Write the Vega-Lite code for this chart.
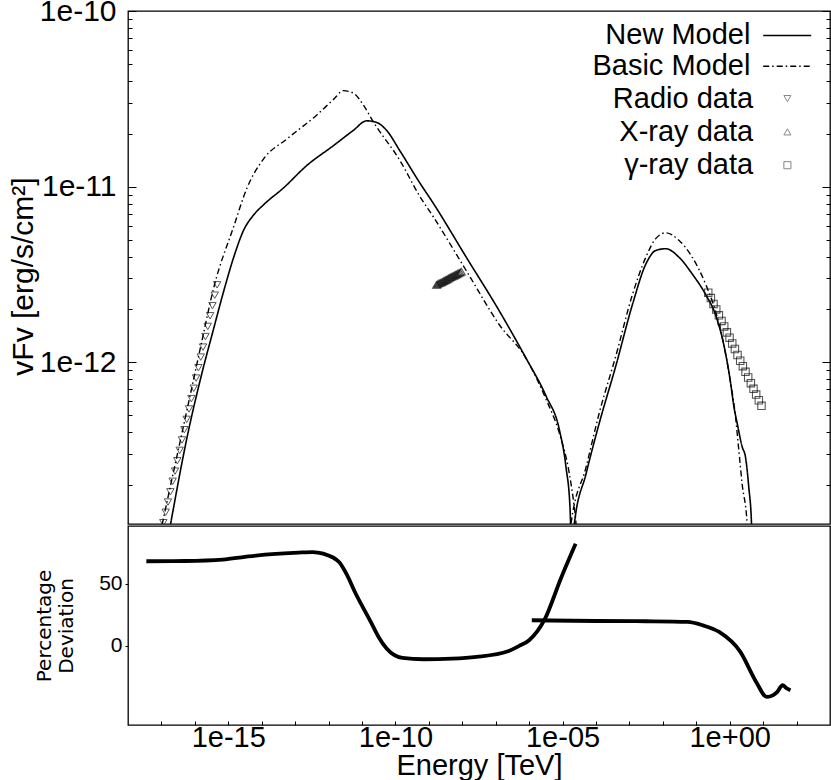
{
  "$schema": "https://vega.github.io/schema/vega-lite/v6.json",
  "background": "white",
  "padding": {"left": 7, "top": -5, "right": 0, "bottom": 0},
  "spacing": 0,
  "config": {
    "font": "Liberation Sans",
    "view": {"stroke": "black", "strokeWidth": 1.3},
    "axis": {"grid": false, "domain": false, "tickColor": "black", "tickWidth": 1, "labelColor": "black", "titleColor": "black", "titleFontWeight": "normal", "labelFont": "Liberation Sans", "titleFont": "Liberation Sans", "labelOverlap": false},
    "legend": {"labelFont": "Liberation Sans", "labelColor": "black", "labelFontSize": 29, "labelLimit": 500, "padding": 0, "rowPadding": 3.3, "title": null}
  },
  "datasets": {
    "newModel": [
      {"model": "New Model", "part": "sync", "energy": 1.58e-17, "flux": 1.0e-13},
      {"model": "New Model", "part": "sync", "energy": 1.875e-17, "flux": 1.197e-13},
      {"model": "New Model", "part": "sync", "energy": 5.90e-17, "flux": 3.77e-13},
      {"model": "New Model", "part": "sync", "energy": 1.47e-16, "flux": 8.02e-13},
      {"model": "New Model", "part": "sync", "energy": 3.67e-16, "flux": 1.56e-12},
      {"model": "New Model", "part": "sync", "energy": 7.29e-16, "flux": 2.54e-12},
      {"model": "New Model", "part": "sync", "energy": 1.45e-15, "flux": 3.96e-12},
      {"model": "New Model", "part": "sync", "energy": 2.88e-15, "flux": 5.65e-12},
      {"model": "New Model", "part": "sync", "energy": 5.73e-15, "flux": 6.90e-12},
      {"model": "New Model", "part": "sync", "energy": 1.14e-14, "flux": 7.89e-12},
      {"model": "New Model", "part": "sync", "energy": 4.50e-14, "flux": 9.84e-12},
      {"model": "New Model", "part": "sync", "energy": 2.24e-13, "flux": 1.32e-11},
      {"model": "New Model", "part": "sync", "energy": 1.39e-12, "flux": 1.71e-11},
      {"model": "New Model", "part": "sync", "energy": 5.50e-12, "flux": 2.09e-11},
      {"model": "New Model", "part": "sync", "energy": 1.38e-11, "flux": 2.37e-11},
      {"model": "New Model", "part": "sync", "energy": 2.74e-11, "flux": 2.32e-11},
      {"model": "New Model", "part": "sync", "energy": 5.45e-11, "flux": 2.09e-11},
      {"model": "New Model", "part": "sync", "energy": 1.36e-10, "flux": 1.60e-11},
      {"model": "New Model", "part": "sync", "energy": 5.36e-10, "flux": 1.05e-11},
      {"model": "New Model", "part": "sync", "energy": 1.34e-9, "flux": 8.07e-12},
      {"model": "New Model", "part": "sync", "energy": 1.32e-8, "flux": 3.96e-12},
      {"model": "New Model", "part": "sync", "energy": 1.30e-7, "flux": 1.95e-12},
      {"model": "New Model", "part": "sync", "energy": 8.17e-7, "flux": 1.05e-12},
      {"model": "New Model", "part": "sync", "energy": 3.22e-6, "flux": 6.41e-13},
      {"model": "New Model", "part": "sync", "energy": 8.04e-6, "flux": 4.12e-13},
      {"model": "New Model", "part": "sync", "energy": 1.27e-5, "flux": 2.52e-13},
      {"model": "New Model", "part": "sync", "energy": 1.67e-5, "flux": 1.48e-13},
      {"model": "New Model", "part": "sync", "energy": 1.91e-5, "flux": 5e-14},
      {"model": "New Model", "part": "ic", "energy": 2.14e-5, "flux": 5e-14},
      {"model": "New Model", "part": "ic", "energy": 2.25e-5, "flux": 1.20e-13},
      {"model": "New Model", "part": "ic", "energy": 5.02e-5, "flux": 2.31e-13},
      {"model": "New Model", "part": "ic", "energy": 1.25e-4, "flux": 4.50e-13},
      {"model": "New Model", "part": "ic", "energy": 3.94e-4, "flux": 9.57e-13},
      {"model": "New Model", "part": "ic", "energy": 1.23e-3, "flux": 2.13e-12},
      {"model": "New Model", "part": "ic", "energy": 3.09e-3, "flux": 3.62e-12},
      {"model": "New Model", "part": "ic", "energy": 6.14e-3, "flux": 4.33e-12},
      {"model": "New Model", "part": "ic", "energy": 1.22e-2, "flux": 4.43e-12},
      {"model": "New Model", "part": "ic", "energy": 3.05e-2, "flux": 3.96e-12},
      {"model": "New Model", "part": "ic", "energy": 7.59e-2, "flux": 3.18e-12},
      {"model": "New Model", "part": "ic", "energy": 0.191, "flux": 2.43e-12},
      {"model": "New Model", "part": "ic", "energy": 0.378, "flux": 1.86e-12},
      {"model": "New Model", "part": "ic", "energy": 0.670, "flux": 1.25e-12},
      {"model": "New Model", "part": "ic", "energy": 1.06, "flux": 7.66e-13},
      {"model": "New Model", "part": "ic", "energy": 1.33, "flux": 5.61e-13},
      {"model": "New Model", "part": "ic", "energy": 1.67, "flux": 4.50e-13},
      {"model": "New Model", "part": "ic", "energy": 2.36, "flux": 3.30e-13},
      {"model": "New Model", "part": "ic", "energy": 2.97, "flux": 2.88e-13},
      {"model": "New Model", "part": "ic", "energy": 3.72, "flux": 1.94e-13},
      {"model": "New Model", "part": "ic", "energy": 4.49, "flux": 1.20e-13},
      {"model": "New Model", "part": "ic", "energy": 4.79, "flux": 5e-14}
    ],
    "basicModel": [
      {"model": "Basic Model", "part": "sync", "energy": 8.65e-18, "flux": 1.0e-13},
      {"model": "Basic Model", "part": "sync", "energy": 1.06e-17, "flux": 1.20e-13},
      {"model": "Basic Model", "part": "sync", "energy": 6.31e-17, "flux": 5.75e-13},
      {"model": "Basic Model", "part": "sync", "energy": 1.58e-16, "flux": 1.29e-12},
      {"model": "Basic Model", "part": "sync", "energy": 3.67e-16, "flux": 2.66e-12},
      {"model": "Basic Model", "part": "sync", "energy": 1.45e-15, "flux": 5.92e-12},
      {"model": "Basic Model", "part": "sync", "energy": 3.64e-15, "flux": 9.84e-12},
      {"model": "Basic Model", "part": "sync", "energy": 1.14e-14, "flux": 1.44e-11},
      {"model": "Basic Model", "part": "sync", "energy": 5.68e-14, "flux": 1.87e-11},
      {"model": "Basic Model", "part": "sync", "energy": 4.46e-13, "flux": 2.56e-11},
      {"model": "Basic Model", "part": "sync", "energy": 1.39e-12, "flux": 3.13e-11},
      {"model": "Basic Model", "part": "sync", "energy": 2.77e-12, "flux": 3.52e-11},
      {"model": "Basic Model", "part": "sync", "energy": 5.50e-12, "flux": 3.41e-11},
      {"model": "Basic Model", "part": "sync", "energy": 1.09e-11, "flux": 2.92e-11},
      {"model": "Basic Model", "part": "sync", "energy": 2.17e-11, "flux": 2.34e-11},
      {"model": "Basic Model", "part": "sync", "energy": 1.36e-10, "flux": 1.41e-11},
      {"model": "Basic Model", "part": "sync", "energy": 5.36e-10, "flux": 8.81e-12},
      {"model": "Basic Model", "part": "sync", "energy": 1.34e-9, "flux": 6.76e-12},
      {"model": "Basic Model", "part": "sync", "energy": 1.32e-8, "flux": 3.32e-12},
      {"model": "Basic Model", "part": "sync", "energy": 1.30e-7, "flux": 1.63e-12},
      {"model": "Basic Model", "part": "sync", "energy": 8.17e-7, "flux": 1.05e-12},
      {"model": "Basic Model", "part": "sync", "energy": 3.22e-6, "flux": 6.14e-13},
      {"model": "Basic Model", "part": "sync", "energy": 8.04e-6, "flux": 3.94e-13},
      {"model": "Basic Model", "part": "sync", "energy": 1.60e-5, "flux": 2.31e-13},
      {"model": "Basic Model", "part": "sync", "energy": 2.25e-5, "flux": 1.48e-13},
      {"model": "Basic Model", "part": "sync", "energy": 2.52e-5, "flux": 1.20e-13},
      {"model": "Basic Model", "part": "sync", "energy": 2.69e-5, "flux": 5e-14},
      {"model": "Basic Model", "part": "ic", "energy": 1.66e-5, "flux": 5e-14},
      {"model": "Basic Model", "part": "ic", "energy": 1.79e-5, "flux": 1.20e-13},
      {"model": "Basic Model", "part": "ic", "energy": 5.02e-5, "flux": 2.52e-13},
      {"model": "Basic Model", "part": "ic", "energy": 1.25e-4, "flux": 5.14e-13},
      {"model": "Basic Model", "part": "ic", "energy": 3.94e-4, "flux": 1.09e-12},
      {"model": "Basic Model", "part": "ic", "energy": 1.23e-3, "flux": 2.43e-12},
      {"model": "Basic Model", "part": "ic", "energy": 3.09e-3, "flux": 3.96e-12},
      {"model": "Basic Model", "part": "ic", "energy": 6.14e-3, "flux": 5.06e-12},
      {"model": "Basic Model", "part": "ic", "energy": 1.22e-2, "flux": 5.46e-12},
      {"model": "Basic Model", "part": "ic", "energy": 3.05e-2, "flux": 4.94e-12},
      {"model": "Basic Model", "part": "ic", "energy": 7.59e-2, "flux": 3.96e-12},
      {"model": "Basic Model", "part": "ic", "energy": 0.191, "flux": 2.78e-12},
      {"model": "Basic Model", "part": "ic", "energy": 0.378, "flux": 1.95e-12},
      {"model": "Basic Model", "part": "ic", "energy": 0.670, "flux": 1.25e-12},
      {"model": "Basic Model", "part": "ic", "energy": 1.06, "flux": 7.66e-13},
      {"model": "Basic Model", "part": "ic", "energy": 1.49, "flux": 4.92e-13},
      {"model": "Basic Model", "part": "ic", "energy": 1.87, "flux": 3.16e-13},
      {"model": "Basic Model", "part": "ic", "energy": 2.36, "flux": 2.02e-13},
      {"model": "Basic Model", "part": "ic", "energy": 3.32, "flux": 1.20e-13},
      {"model": "Basic Model", "part": "ic", "energy": 3.55, "flux": 5e-14}
    ],
    "radio": [
      {"set": "Radio data", "energy": 1.14e-17, "flux": 1.22e-13},
      {"set": "Radio data", "energy": 1.34e-17, "flux": 1.40e-13},
      {"set": "Radio data", "energy": 1.57e-17, "flux": 1.60e-13},
      {"set": "Radio data", "energy": 1.85e-17, "flux": 1.83e-13},
      {"set": "Radio data", "energy": 2.17e-17, "flux": 2.10e-13},
      {"set": "Radio data", "energy": 2.55e-17, "flux": 2.40e-13},
      {"set": "Radio data", "energy": 2.99e-17, "flux": 2.75e-13},
      {"set": "Radio data", "energy": 3.52e-17, "flux": 3.15e-13},
      {"set": "Radio data", "energy": 4.13e-17, "flux": 3.61e-13},
      {"set": "Radio data", "energy": 4.85e-17, "flux": 4.13e-13},
      {"set": "Radio data", "energy": 5.70e-17, "flux": 4.73e-13},
      {"set": "Radio data", "energy": 6.70e-17, "flux": 5.42e-13},
      {"set": "Radio data", "energy": 7.87e-17, "flux": 6.21e-13},
      {"set": "Radio data", "energy": 9.25e-17, "flux": 7.11e-13},
      {"set": "Radio data", "energy": 1.09e-16, "flux": 8.13e-13},
      {"set": "Radio data", "energy": 1.28e-16, "flux": 9.31e-13},
      {"set": "Radio data", "energy": 1.50e-16, "flux": 1.07e-12},
      {"set": "Radio data", "energy": 1.76e-16, "flux": 1.22e-12},
      {"set": "Radio data", "energy": 2.07e-16, "flux": 1.40e-12},
      {"set": "Radio data", "energy": 2.43e-16, "flux": 1.60e-12},
      {"set": "Radio data", "energy": 2.86e-16, "flux": 1.84e-12},
      {"set": "Radio data", "energy": 3.36e-16, "flux": 2.10e-12},
      {"set": "Radio data", "energy": 3.94e-16, "flux": 2.41e-12},
      {"set": "Radio data", "energy": 4.63e-16, "flux": 2.76e-12}
    ],
    "xray": [
      {"set": "X-ray data", "energy": 1.69e-9, "flux": 2.76e-12},
      {"set": "X-ray data", "energy": 1.83e-9, "flux": 2.78e-12},
      {"set": "X-ray data", "energy": 1.99e-9, "flux": 2.81e-12},
      {"set": "X-ray data", "energy": 2.16e-9, "flux": 2.83e-12},
      {"set": "X-ray data", "energy": 2.34e-9, "flux": 2.85e-12},
      {"set": "X-ray data", "energy": 2.54e-9, "flux": 2.87e-12},
      {"set": "X-ray data", "energy": 2.76e-9, "flux": 2.90e-12},
      {"set": "X-ray data", "energy": 3.00e-9, "flux": 2.92e-12},
      {"set": "X-ray data", "energy": 3.25e-9, "flux": 2.95e-12},
      {"set": "X-ray data", "energy": 3.53e-9, "flux": 2.97e-12},
      {"set": "X-ray data", "energy": 3.83e-9, "flux": 3.00e-12},
      {"set": "X-ray data", "energy": 4.15e-9, "flux": 3.02e-12},
      {"set": "X-ray data", "energy": 4.51e-9, "flux": 3.05e-12},
      {"set": "X-ray data", "energy": 4.89e-9, "flux": 3.07e-12},
      {"set": "X-ray data", "energy": 5.31e-9, "flux": 3.10e-12},
      {"set": "X-ray data", "energy": 5.76e-9, "flux": 3.12e-12},
      {"set": "X-ray data", "energy": 6.25e-9, "flux": 3.15e-12},
      {"set": "X-ray data", "energy": 6.78e-9, "flux": 3.17e-12},
      {"set": "X-ray data", "energy": 7.36e-9, "flux": 3.20e-12},
      {"set": "X-ray data", "energy": 7.99e-9, "flux": 3.23e-12},
      {"set": "X-ray data", "energy": 8.67e-9, "flux": 3.25e-12},
      {"set": "X-ray data", "energy": 9.40e-9, "flux": 3.28e-12}
    ],
    "gamma": [
      {"set": "γ-ray data", "energy": 0.228, "flux": 2.49e-12},
      {"set": "γ-ray data", "energy": 0.273, "flux": 2.32e-12},
      {"set": "γ-ray data", "energy": 0.328, "flux": 2.15e-12},
      {"set": "γ-ray data", "energy": 0.395, "flux": 2.00e-12},
      {"set": "γ-ray data", "energy": 0.474, "flux": 1.85e-12},
      {"set": "γ-ray data", "energy": 0.569, "flux": 1.72e-12},
      {"set": "γ-ray data", "energy": 0.684, "flux": 1.60e-12},
      {"set": "γ-ray data", "energy": 0.822, "flux": 1.48e-12},
      {"set": "γ-ray data", "energy": 0.988, "flux": 1.38e-12},
      {"set": "γ-ray data", "energy": 1.19, "flux": 1.28e-12},
      {"set": "γ-ray data", "energy": 1.43, "flux": 1.19e-12},
      {"set": "γ-ray data", "energy": 1.71, "flux": 1.10e-12},
      {"set": "γ-ray data", "energy": 2.06, "flux": 1.02e-12},
      {"set": "γ-ray data", "energy": 2.47, "flux": 9.50e-13},
      {"set": "γ-ray data", "energy": 2.97, "flux": 8.82e-13},
      {"set": "γ-ray data", "energy": 3.57, "flux": 8.19e-13},
      {"set": "γ-ray data", "energy": 4.29, "flux": 7.60e-13},
      {"set": "γ-ray data", "energy": 5.15, "flux": 7.06e-13},
      {"set": "γ-ray data", "energy": 6.19, "flux": 6.55e-13},
      {"set": "γ-ray data", "energy": 7.43, "flux": 6.08e-13},
      {"set": "γ-ray data", "energy": 8.93, "flux": 5.65e-13}
    ],
    "deviation": [
      {"part": "sync", "energy": 3.54e-18, "deviation": 68.0},
      {"part": "sync", "energy": 5.01e-17, "deviation": 68.2},
      {"part": "sync", "energy": 6.90e-16, "deviation": 69.3},
      {"part": "sync", "energy": 3.16e-15, "deviation": 71.5},
      {"part": "sync", "energy": 1.26e-14, "deviation": 73.3},
      {"part": "sync", "energy": 1.26e-13, "deviation": 75.0},
      {"part": "sync", "energy": 3.33e-13, "deviation": 75.4},
      {"part": "sync", "energy": 6.92e-13, "deviation": 74.1},
      {"part": "sync", "energy": 2.06e-12, "deviation": 67.4},
      {"part": "sync", "energy": 3.55e-12, "deviation": 57.0},
      {"part": "sync", "energy": 6.14e-12, "deviation": 43.3},
      {"part": "sync", "energy": 1.83e-11, "deviation": 19.3},
      {"part": "sync", "energy": 3.16e-11, "deviation": 7.0},
      {"part": "sync", "energy": 5.45e-11, "deviation": -2.1},
      {"part": "sync", "energy": 1.61e-10, "deviation": -9.6},
      {"part": "sync", "energy": 6.92e-10, "deviation": -10.7},
      {"part": "sync", "energy": 5.01e-9, "deviation": -10.2},
      {"part": "sync", "energy": 2.64e-8, "deviation": -8.8},
      {"part": "sync", "energy": 2.34e-7, "deviation": -4.3},
      {"part": "sync", "energy": 5.01e-7, "deviation": 0.0},
      {"part": "sync", "energy": 1.00e-6, "deviation": 4.6},
      {"part": "sync", "energy": 2.99e-6, "deviation": 21.9},
      {"part": "sync", "energy": 8.83e-6, "deviation": 54.0},
      {"part": "sync", "energy": 2.46e-5, "deviation": 82.1},
      {"part": "ic", "energy": 1.20e-6, "deviation": 20.6},
      {"part": "ic", "energy": 1.0e-4, "deviation": 20.0},
      {"part": "ic", "energy": 3.16e-3, "deviation": 19.8},
      {"part": "ic", "energy": 5.50e-2, "deviation": 19.3},
      {"part": "ic", "energy": 0.158, "deviation": 16.5},
      {"part": "ic", "energy": 0.484, "deviation": 11.2},
      {"part": "ic", "energy": 2.08, "deviation": -4.8},
      {"part": "ic", "energy": 6.19, "deviation": -28.9},
      {"part": "ic", "energy": 12.8, "deviation": -40.9},
      {"part": "ic", "energy": 20.0, "deviation": -39.5},
      {"part": "ic", "energy": 26.5, "deviation": -36.9},
      {"part": "ic", "energy": 38.2, "deviation": -31.5},
      {"part": "ic", "energy": 50.1, "deviation": -34.0},
      {"part": "ic", "energy": 65.8, "deviation": -35.6}
    ]
  },
  "vconcat": [
    {
      "width": 702,
      "height": 513,
      "resolve": {"axis": {"y": "independent"}},
      "layer": [
        {
          "data": {"name": "newModel"},
          "mark": {"type": "line", "color": "black", "strokeWidth": 1.6, "clip": true, "interpolate": "monotone"},
          "encoding": {
            "x": {"field": "energy", "type": "quantitative",
              "scale": {"type": "log", "domain": [1e-18, 1e3], "nice": false},
              "axis": {"orient": "top", "values": [1e-17, 1e-16, 1e-15, 1e-14, 1e-13, 1e-12, 1e-11, 1e-10, 1e-9, 1e-8, 1e-7, 1e-6, 1e-5, 1e-4, 0.001, 0.01, 0.1, 1, 10, 100], "labels": false, "tickSize": -4, "title": null}},
            "y": {"field": "flux", "type": "quantitative",
              "scale": {"type": "log", "domain": [1.2e-13, 1e-10], "nice": false},
              "axis": {"orient": "left", "values": [1e-10, 1e-11, 1e-12], "format": ".0e", "ticks": false, "labelPadding": 12, "labelFontSize": 30, "title": "vFv [erg/s/cm²]", "titleFontSize": 30, "titlePadding": 1, "titleY": 265}},
            "strokeDash": {"field": "model", "type": "nominal",
              "scale": {"domain": ["New Model", "Basic Model"], "range": [[1, 0], [6, 3, 1.5, 3]]},
              "legend": {"orient": "none", "legendX": 644.7, "legendY": 9.9, "rowPadding": 0.8, "symbolType": "M-2.4,0H2.4", "symbolSize": 400, "symbolStrokeColor": "black", "symbolStrokeWidth": 1.5, "labelAlign": "right", "labelOffset": -51.3}},
            "detail": {"field": "part"}
          }
        },
        {
          "data": {"name": "basicModel"},
          "mark": {"type": "line", "color": "black", "strokeWidth": 1.4, "clip": true, "interpolate": "monotone"},
          "encoding": {
            "x": {"field": "energy", "type": "quantitative", "axis": null},
            "y": {"field": "flux", "type": "quantitative",
              "axis": {"orient": "left", "values": [1e-10, 1e-11, 1e-12], "labels": false, "tickSize": -8, "title": null}},
            "strokeDash": {"field": "model", "type": "nominal",
              "scale": {"domain": ["New Model", "Basic Model"], "range": [[1, 0], [6, 3, 1.5, 3]]},
              "legend": {"orient": "none", "legendX": 644.7, "legendY": 9.9, "rowPadding": 0.8, "symbolType": "M-2.4,0H2.4", "symbolSize": 400, "symbolStrokeColor": "black", "symbolStrokeWidth": 1.5, "labelAlign": "right", "labelOffset": -51.3}},
            "detail": {"field": "part"}
          }
        },
        {
          "data": {"name": "radio"},
          "mark": {"type": "point", "filled": false, "color": "#111", "strokeWidth": 1, "size": 55, "clip": true},
          "encoding": {
            "x": {"field": "energy", "type": "quantitative", "axis": null},
            "y": {"field": "flux", "type": "quantitative",
              "axis": {"orient": "left", "values": [9e-11, 8e-11, 7e-11, 6e-11, 5e-11, 4e-11, 3e-11, 2e-11, 9e-12, 8e-12, 7e-12, 6e-12, 5e-12, 4e-12, 3e-12, 2e-12, 9e-13, 8e-13, 7e-13, 6e-13, 5e-13, 4e-13, 3e-13, 2e-13], "labels": false, "tickSize": -4, "title": null}},
            "shape": {"field": "set", "type": "nominal",
              "scale": {"domain": ["Radio data", "X-ray data", "γ-ray data"], "range": ["triangle-down", "triangle-up", "square"]},
              "legend": {"orient": "none", "legendX": 644.9, "legendY": 73.1, "symbolSize": 50, "symbolStrokeColor": "#555", "symbolStrokeWidth": 1, "symbolFillColor": "transparent", "labelAlign": "right", "labelOffset": -48.8}}
          }
        },
        {
          "data": {"name": "xray"},
          "mark": {"type": "point", "filled": false, "color": "#111", "strokeWidth": 1.1, "size": 60, "clip": true},
          "encoding": {
            "x": {"field": "energy", "type": "quantitative", "axis": null},
            "y": {"field": "flux", "type": "quantitative",
              "axis": {"orient": "right", "values": [1e-10, 1e-11, 1e-12], "labels": false, "tickSize": -8, "title": null}},
            "shape": {"field": "set", "type": "nominal",
              "scale": {"domain": ["Radio data", "X-ray data", "γ-ray data"], "range": ["triangle-down", "triangle-up", "square"]},
              "legend": {"orient": "none", "legendX": 644.9, "legendY": 73.1, "symbolSize": 50, "symbolStrokeColor": "#555", "symbolStrokeWidth": 1, "symbolFillColor": "transparent", "labelAlign": "right", "labelOffset": -48.8}}
          }
        },
        {
          "data": {"name": "gamma"},
          "mark": {"type": "point", "filled": false, "color": "#111", "strokeWidth": 1.1, "size": 55, "clip": true},
          "encoding": {
            "x": {"field": "energy", "type": "quantitative", "axis": null},
            "y": {"field": "flux", "type": "quantitative",
              "axis": {"orient": "right", "values": [9e-11, 8e-11, 7e-11, 6e-11, 5e-11, 4e-11, 3e-11, 2e-11, 9e-12, 8e-12, 7e-12, 6e-12, 5e-12, 4e-12, 3e-12, 2e-12, 9e-13, 8e-13, 7e-13, 6e-13, 5e-13, 4e-13, 3e-13, 2e-13], "labels": false, "tickSize": -4, "title": null}},
            "shape": {"field": "set", "type": "nominal",
              "scale": {"domain": ["Radio data", "X-ray data", "γ-ray data"], "range": ["triangle-down", "triangle-up", "square"]},
              "legend": {"orient": "none", "legendX": 644.9, "legendY": 73.1, "symbolSize": 50, "symbolStrokeColor": "#555", "symbolStrokeWidth": 1, "symbolFillColor": "transparent", "labelAlign": "right", "labelOffset": -48.8}}
          }
        }
      ]
    },
    {
      "width": 702,
      "height": 199,
      "data": {"name": "deviation"},
      "mark": {"type": "line", "color": "black", "strokeWidth": 3.8, "clip": true, "interpolate": "monotone"},
      "encoding": {
        "x": {"field": "energy", "type": "quantitative",
          "scale": {"type": "log", "domain": [1e-18, 1e3], "nice": false},
          "axis": {"values": [1e-17, 1e-16, 1e-15, 1e-14, 1e-13, 1e-12, 1e-11, 1e-10, 1e-9, 1e-8, 1e-7, 1e-6, 1e-5, 1e-4, 0.001, 0.01, 0.1, 1, 10, 100],
            "labelExpr": "round(log(datum.value)/LN10) == -15 ? '1e-15' : round(log(datum.value)/LN10) == -10 ? '1e-10' : round(log(datum.value)/LN10) == -5 ? '1e-05' : round(log(datum.value)/LN10) == 0 ? '1e+00' : ''",
            "tickSize": -4, "labelPadding": 2, "labelFontSize": 29, "title": "Energy [TeV]", "titleFontSize": 29, "titlePadding": -1}},
        "y": {"field": "deviation", "type": "quantitative",
          "scale": {"domain": [-63.5, 96.3], "nice": false, "zero": false},
          "axis": {"values": [0, 50], "tickSize": 3, "labelPadding": 3, "labelFontSize": 21, "title": ["Percentage", "Deviation"], "titleFont": "DejaVu Sans", "titleFontSize": 20, "titleLineHeight": 22, "titlePadding": 22}},
        "detail": {"field": "part"}
      }
    }
  ]
}
